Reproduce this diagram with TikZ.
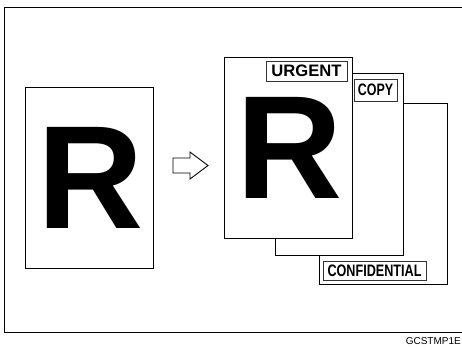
\documentclass[tikz,border=0pt]{standalone}
\usepackage{fontspec}
\setmainfont{Liberation Sans}
\begin{document}
\begin{tikzpicture}[x=1pt,y=-1pt,
  page/.style={draw=black,line width=0.9pt,fill=white,rectangle,minimum width=128pt,minimum height=181pt,inner sep=0pt},
  bigR/.style={inner sep=0pt,anchor=base west,font=\fontsize{147}{147}\selectfont\bfseries},
  tag/.style={draw=black!80,line width=0.7pt,fill=white,rectangle,inner sep=0pt,font=\fontsize{16.6}{16.6}\selectfont\bfseries}]
\useasboundingbox (0,0) rectangle (462,349);
\clip (0,0) rectangle (462,349);
% outer frame
\draw[line width=0.9pt] (470,7) -- (4,7) -- (4,332) -- (470,332);
% source page
\node[page] (src) at (89,177.5) {};
\node[bigR] (srcR) at (37,228.5) {R};
% arrow
\draw[line width=0.9pt,fill=white] (173,158) -- (190,158) -- (190,152) -- (208,165.5) -- (190,179) -- (190,173) -- (173,173) -- cycle;
% stacked pages
\node[page] (p3) at (383,193.5) {};
\node[page,minimum height=182pt] (p2) at (339,164) {};
\node[page] (p1) at (288,147.5) {};
\node[bigR] (p1R) at (236,198.5) {R};
% tags
\node[tag,minimum width=81pt,minimum height=20pt] (urgent) at (306.5,71) {URGENT};
\node[tag,minimum width=43pt,minimum height=22pt] (copy) at (375.5,90) {\scalebox{0.75}[1]{COPY}};
\node[tag,minimum width=103pt,minimum height=19pt] (conf) at (374.5,270.5) {\scalebox{0.76}[1]{CONFIDENTIAL}};
% footer code
\node[anchor=base east,inner sep=0pt,font=\fontsize{10}{10}\selectfont] (code) at (461,344.5) {GCSTMP1E};
\end{tikzpicture}
\end{document}
